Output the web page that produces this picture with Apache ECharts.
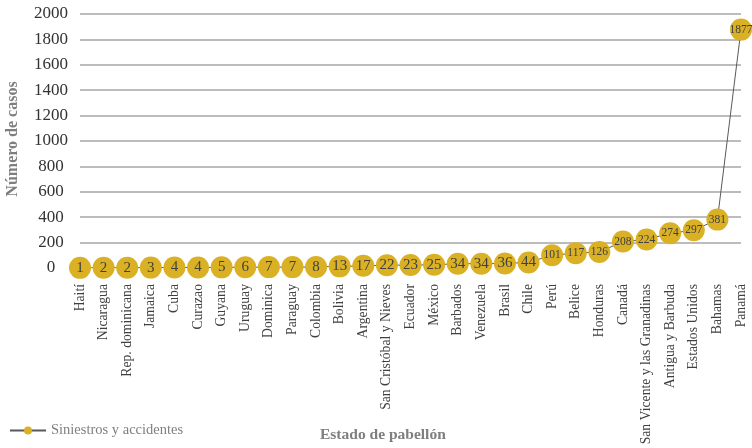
<!DOCTYPE html>
<html>
<head>
<meta charset="utf-8">
<script src="https://cdn.jsdelivr.net/npm/echarts@6/dist/echarts.min.js"></script>
<style>
  html, body { margin: 0; padding: 0; background: #fff; }
  #chart { width: 752px; height: 448px; }
</style>
</head>
<body>
<div id="chart"></div>
<script>
const countries = ['Haití', 'Nicaragua', 'Rep. dominicana', 'Jamaica', 'Cuba', 'Curazao', 'Guyana',
  'Uruguay', 'Dominica', 'Paraguay', 'Colombia', 'Bolivia', 'Argentina', 'San Cristóbal y Nieves',
  'Ecuador', 'México', 'Barbados', 'Venezuela', 'Brasil', 'Chile', 'Perú', 'Belice', 'Honduras',
  'Canadá', 'San Vicente y las Granadinas', 'Antigua y Barbuda', 'Estados Unidos', 'Bahamas', 'Panamá'];
const cases = [1, 2, 2, 3, 4, 4, 5, 6, 7, 7, 8, 13, 17, 22, 23, 25, 34, 34, 36, 44, 101, 117, 126,
  208, 224, 274, 297, 381, 1877];

const serif = 'Liberation Serif';
const myChart = echarts.init(document.getElementById('chart'));

const option = {
  animation: false,
  textStyle: { fontFamily: serif },
  grid: { left: 80, right: 11, top: 14, bottom: 180, outerBoundsMode: 'none', containLabel: false },
  legend: {
    left: 4,
    top: 418,
    itemWidth: 36,
    itemHeight: 10,
    textStyle: { color: '#7f7f7f', fontSize: 14.5, fontFamily: serif },
    data: ['Siniestros y accidentes']
  },
  graphic: [
    {
      type: 'text',
      left: 320,
      top: 427,
      style: { text: 'Estado de pabellón', font: 'bold 15.5px "Liberation Serif"', fill: '#7f7f7f' }
    },
    {
      type: 'text',
      x: 13,
      y: 139,
      rotation: Math.PI / 2,
      style: {
        text: 'Número de casos', font: 'bold 16px "Liberation Serif"', fill: '#7f7f7f',
        align: 'center', verticalAlign: 'middle'
      }
    }
  ],
  xAxis: {
    type: 'category',
    data: countries,
    boundaryGap: false,
    axisLine: { show: false },
    axisTick: { show: false },
    axisLabel: { rotate: 90, interval: 0, margin: 16, color: '#404040', fontSize: 13.7, fontFamily: serif }
  },
  yAxis: {
    type: 'value',
    min: 0,
    max: 2000,
    interval: 200,
    axisLabel: { margin: 29, align: 'center', color: '#333', fontSize: 17, fontFamily: serif, formatter: v => String(v) },
    splitLine: { showMinLine: false, lineStyle: { color: '#a6a6a6', width: 1.5 } }
  },
  series: [{
    name: 'Siniestros y accidentes',
    type: 'line',
    data: cases,
    symbol: 'circle',
    symbolSize: 22,
    lineStyle: { color: '#595959', width: 1 },
    itemStyle: { color: '#dab024' },
    label: {
      show: true,
      position: 'inside',
      formatter: p => (p.value >= 100 ? '{s|' + p.value + '}' : '{b|' + p.value + '}'),
      rich: {
        b: { fontSize: 15, color: '#404040', fontFamily: serif },
        s: { fontSize: 11.5, color: '#404040', fontFamily: serif }
      }
    }
  }]
};
myChart.setOption(option);
</script>
</body>
</html>
